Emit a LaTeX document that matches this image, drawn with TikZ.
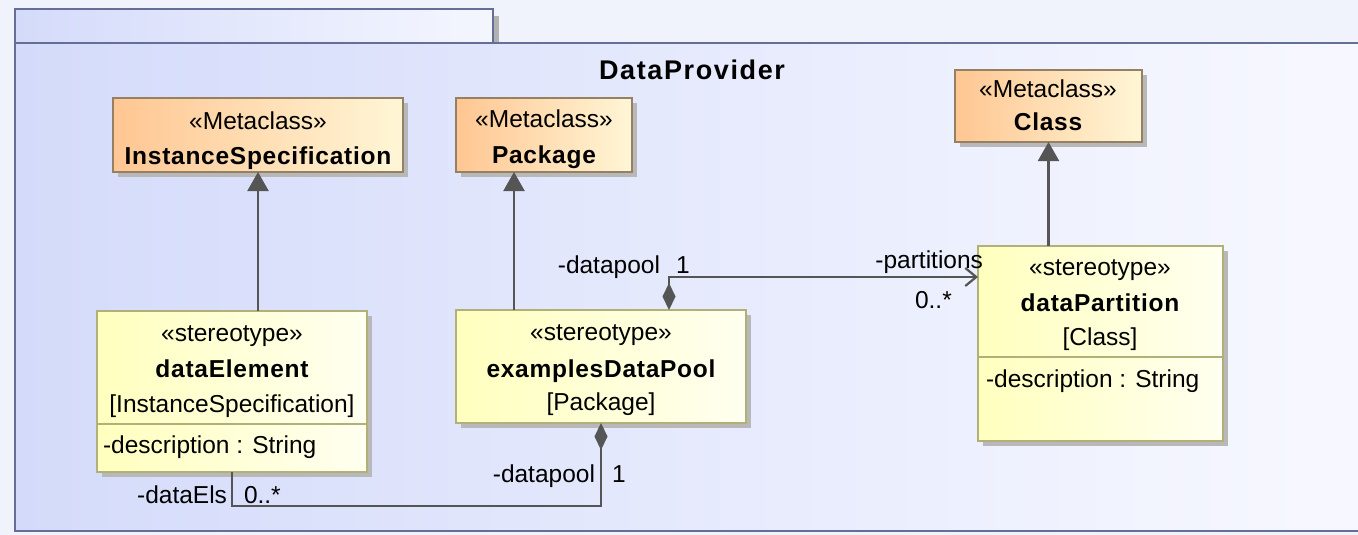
\documentclass[tikz,border=0pt]{standalone}
\usepackage{fontspec}
\setmainfont{Liberation Sans}[BoldFeatures={LetterSpace=3}]
\newfontfamily\headfam{Liberation Sans}[LetterSpace=6]
\usetikzlibrary{arrows.meta,shadows}

\definecolor{pagebg}{RGB}{240,242,252}
\definecolor{frameL}{RGB}{212,219,250}
\definecolor{frameR}{RGB}{248,249,255}
\definecolor{frameline}{RGB}{100,110,150}
\definecolor{metaL}{RGB}{255,198,146}
\definecolor{metaR}{RGB}{255,246,214}
\definecolor{metaline}{RGB}{150,128,100}
\definecolor{stL}{RGB}{255,255,190}
\definecolor{stR}{RGB}{255,255,240}
\definecolor{stline}{RGB}{176,176,120}
\definecolor{wire}{RGB}{85,85,85}

\newcommand\umlfont{\fontsize{24.5}{30}\selectfont}
\newcommand\titlefont{\headfam\fontsize{27}{32}\selectfont\bfseries}

\begin{document}
\begin{tikzpicture}[x=1pt,y=-1pt,
  every node/.style={font=\umlfont, inner sep=0pt, outer sep=0pt},
  boxshadow/.style={general shadow={fill=black!28, shadow xshift=5pt, shadow yshift=-5pt}},
  metabox/.style={boxshadow, draw=metaline, line width=1.3pt, left color=metaL, right color=metaR, anchor=north west},
  stereobox/.style={boxshadow, draw=stline, line width=1.3pt, left color=stL, right color=stR, anchor=north west},
  txt/.style={anchor=base},
  conn/.style={draw=wire, line width=2.2pt},
  gen/.style={conn, -{Triangle[length=19pt,width=21pt,fill=wire]}},
  comp/.style={conn, {Diamond[length=27pt,width=13pt,fill=wire]}-},
  nav/.style={conn, {Diamond[length=27pt,width=13pt,fill=wire]}-{Straight Barb[length=11pt,width=18pt]}}
]
\useasboundingbox (0,0) rectangle (1358,535);
\clip (0,0) rectangle (1358,535);
\fill[pagebg] (0,0) rectangle (1358,535);

% package frame with its name tab
\fill[black!30] (499,16) rectangle (493,43);
\path[left color=frameL, right color=frameR, draw=frameline, line width=2.2pt]
  (15,43) rectangle (1380,531);
\path[left color=frameL, right color=frameR!90!frameL, draw=frameline, line width=2.2pt]
  (15,9) rectangle (493,43);
\node[txt, font=\titlefont] (title) at (692,80) {DataProvider};

% metaclasses
\node[metabox, minimum width=290pt, minimum height=74pt] (IS) at (113,98) {};
\node[metabox, minimum width=176pt, minimum height=74pt] (PK) at (456,98) {};
\node[metabox, minimum width=187pt, minimum height=72pt] (CL) at (955,70) {};
\node[txt] (ISs) at (258,129) {«Metaclass»};
\node[txt, font=\umlfont\bfseries] (ISn) at (258,164) {InstanceSpecification};
\node[txt] (PKs) at (544,128) {«Metaclass»};
\node[txt, font=\umlfont\bfseries] (PKn) at (544,163) {Package};
\node[txt] (CLs) at (1048,97) {«Metaclass»};
\node[txt, font=\umlfont\bfseries] (CLn) at (1048,130) {Class};

% stereotypes
\node[stereobox, minimum width=270pt, minimum height=161pt] (DE) at (97,311) {};
\node[stereobox, minimum width=290pt, minimum height=113pt] (DP) at (456,310) {};
\node[stereobox, minimum width=245pt, minimum height=195pt] (PT) at (978,246) {};
\draw[stline, line width=1.3pt] ([yshift=-113pt]DE.north west) -- ([yshift=-113pt]DE.north east);
\draw[stline, line width=1.3pt] ([yshift=-111pt]PT.north west) -- ([yshift=-111pt]PT.north east);

\node[txt] (DEs) at (232,341) {«stereotype»};
\node[txt, font=\umlfont\bfseries] (DEn) at (232,377) {dataElement};
\node[txt] (DEm) at (232,412) {[InstanceSpecification]};
\node[anchor=base west] (DEa) at (103,453) {-description : String};

\node[txt] (DPs) at (601,340) {«stereotype»};
\node[txt, font=\umlfont\bfseries] (DPn) at (601,377) {examplesDataPool};
\node[txt] (DPm) at (601,410) {[Package]};

\node[txt] (PTs) at (1100,275) {«stereotype»};
\node[txt, font=\umlfont\bfseries] (PTn) at (1100,311) {dataPartition};
\node[txt] (PTm) at (1100,345) {[Class]};
\node[anchor=base west] (PTa) at (986,387) {-description : String};

% extensions
\draw[gen] (IS.south |- DE.north) -- (IS.south);
\draw[gen] ([xshift=-30pt]PK.south |- DP.north) -- ([xshift=-30pt]PK.south);
\draw[gen] (CL.south |- PT.north) -- (CL.south);

% associations
\coordinate (topbend) at ([xshift=68pt,yshift=33pt]DP.north);
\draw[nav] ([xshift=68pt]DP.north) -- (topbend) -- (topbend -| PT.west);
\coordinate (lowbend) at ([yshift=-83pt]DP.south);
\draw[comp] (DP.south) -- (lowbend) -| (DE.south);

% association end labels
\node[anchor=base east] (l1) at (660,273) {-datapool};
\node[anchor=base west] (l2) at (676,273) {1};
\node[anchor=base east] (l3) at (983,268) {-partitions};
\node[anchor=base west] (l4) at (915,308) {0..*};
\node[anchor=base east] (l5) at (595,482) {-datapool};
\node[anchor=base west] (l6) at (612,482) {1};
\node[anchor=base east] (l7) at (227,503) {-dataEls};
\node[anchor=base west] (l8) at (244,503) {0..*};
\end{tikzpicture}
\end{document}
